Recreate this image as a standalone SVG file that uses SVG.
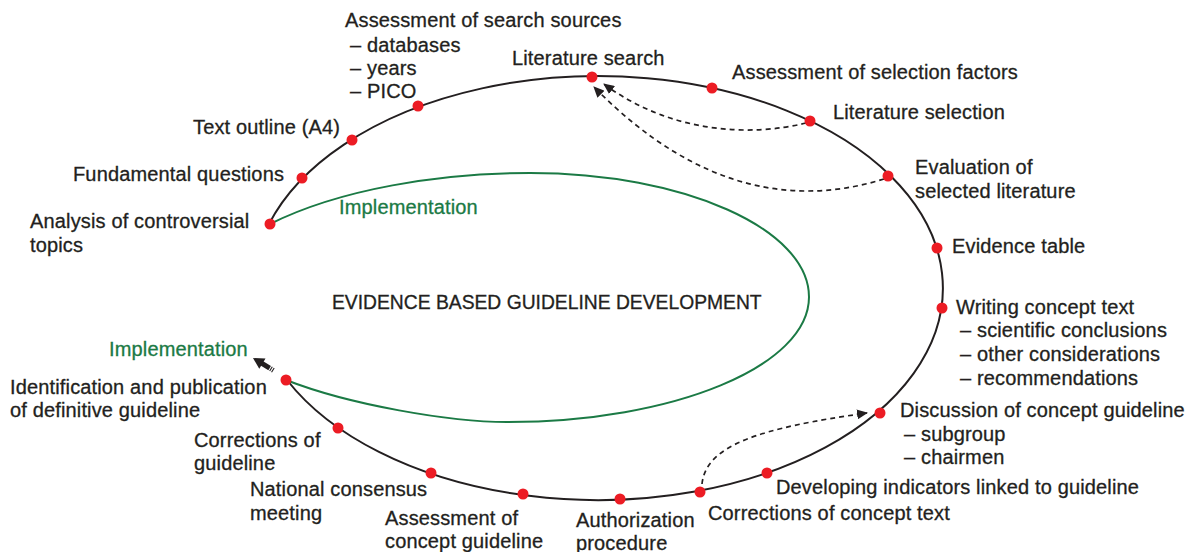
<svg xmlns="http://www.w3.org/2000/svg" width="1196" height="552" viewBox="0 0 1196 552">
<defs>
<style>
text{font-family:"Liberation Sans",Arial,sans-serif;font-size:20px;fill:#231f20;stroke:#231f20;stroke-width:0.3px;letter-spacing:0.15px}
.g{fill:#1b7a45;stroke:#1b7a45}
.title{font-size:19.3px;letter-spacing:0}
.dot{fill:#ec1c24}
.ring{fill:none;stroke:#231f20;stroke-width:2}
.impl{fill:none;stroke:#1b7a45;stroke-width:2}
.dash{fill:none;stroke:#231f20;stroke-width:1.7;stroke-dasharray:5 4;marker-end:url(#ah)}
</style>
<marker id="ah" markerUnits="userSpaceOnUse" markerWidth="12" markerHeight="10" refX="10" refY="5" orient="auto" viewBox="0 0 12 10">
<path d="M0,0 L11,5 L0,10 Z" fill="#231f20"/>
</marker>
</defs>
<rect width="1196" height="552" fill="#fff"/>
<g id="connectors">
<path class="ring" d="M 269 224 A 345 212 0 1 1 287 380"/>
<path class="impl" d="M 270 224 C 340 189, 440 173, 530 173 C 684 173, 809 229, 809 297 C 809 366, 674 422, 507 422 C 450 422, 350 405, 286 380"/>
<path class="dash" d="M 806 123 C 750 137, 670 133, 604 84"/>
<path class="dash" d="M 884 179 C 800 205, 700 195, 594 87"/>
<path class="dash" d="M 702 484 C 706 445, 760 428, 867 413"/>
<g transform="translate(253,358) rotate(31.3)" fill="#231f20">
<path d="M0,0 L11,-6 L11,6 Z"/>
<rect x="10" y="-2.5" width="9.5" height="5"/>
<rect x="20.5" y="-2.5" width="1.1" height="5"/>
<rect x="22.7" y="-2.5" width="1.1" height="5"/>
</g>
</g>
<g id="title"><text class="title" x="332" y="309">EVIDENCE BASED GUIDELINE DEVELOPMENT</text></g>
<g id="impl-top"><text class="g" x="339" y="214">Implementation</text></g>
<g id="impl-bottom"><text class="g" x="109" y="356">Implementation</text></g>
<g id="n-analysis"><circle class="dot" cx="270" cy="224" r="5.5"/><text x="30" y="228">Analysis of controversial</text><text x="30" y="252">topics</text></g>
<g id="n-fundamental"><circle class="dot" cx="302" cy="178" r="5.5"/><text x="73" y="181">Fundamental questions</text></g>
<g id="n-outline"><circle class="dot" cx="352" cy="140" r="5.5"/><text x="193" y="134">Text outline (A4)</text></g>
<g id="n-sources"><circle class="dot" cx="418" cy="106" r="5.5"/><text x="345" y="27">Assessment of search sources</text><text x="350" y="52">– databases</text><text x="350" y="75">– years</text><text x="350" y="98">– PICO</text></g>
<g id="n-search"><circle class="dot" cx="592" cy="77" r="5.5"/><text x="512" y="65">Literature search</text></g>
<g id="n-factors"><circle class="dot" cx="712" cy="88" r="5.5"/><text x="732" y="79">Assessment of selection factors</text></g>
<g id="n-selection"><circle class="dot" cx="810" cy="121" r="5.5"/><text x="833" y="119">Literature selection</text></g>
<g id="n-evaluation"><circle class="dot" cx="888" cy="176" r="5.5"/><text x="915" y="174">Evaluation of</text><text x="915" y="198">selected literature</text></g>
<g id="n-evidence"><circle class="dot" cx="937" cy="248" r="5.5"/><text x="952" y="253">Evidence table</text></g>
<g id="n-writing"><circle class="dot" cx="942" cy="308" r="5.5"/><text x="956" y="314">Writing concept text</text><text x="960" y="337">– scientific conclusions</text><text x="960" y="361">– other considerations</text><text x="960" y="385">– recommendations</text></g>
<g id="n-discussion"><circle class="dot" cx="880" cy="413" r="5.5"/><text x="900" y="417">Discussion of concept guideline</text><text x="904" y="441">– subgroup</text><text x="904" y="464">– chairmen</text></g>
<g id="n-indicators"><circle class="dot" cx="767" cy="473" r="5.5"/><text x="776" y="494">Developing indicators linked to guideline</text></g>
<g id="n-corrections-text"><circle class="dot" cx="700" cy="492" r="5.5"/><text x="708" y="520">Corrections of concept text</text></g>
<g id="n-authorization"><circle class="dot" cx="620" cy="499" r="5.5"/><text x="576" y="527">Authorization</text><text x="576" y="550">procedure</text></g>
<g id="n-assessment-concept"><circle class="dot" cx="523" cy="494" r="5.5"/><text x="385" y="525">Assessment of</text><text x="385" y="548">concept guideline</text></g>
<g id="n-consensus"><circle class="dot" cx="431" cy="473" r="5.5"/><text x="250" y="496">National consensus</text><text x="250" y="520">meeting</text></g>
<g id="n-corrections-guideline"><circle class="dot" cx="338" cy="428" r="5.5"/><text x="194" y="447">Corrections of</text><text x="194" y="470">guideline</text></g>
<g id="n-identification"><circle class="dot" cx="286" cy="380" r="5.5"/><text x="10" y="394">Identification and publication</text><text x="10" y="417">of definitive guideline</text></g>
</svg>
